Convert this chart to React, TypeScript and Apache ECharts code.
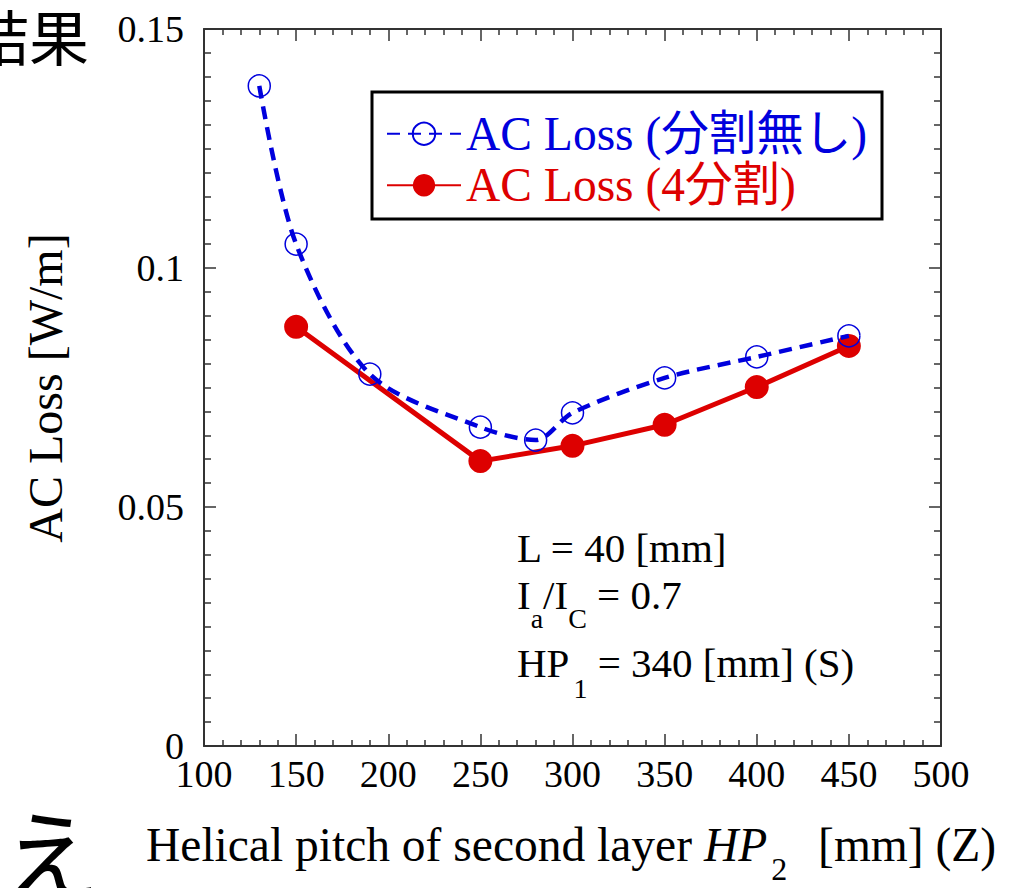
import React, { useEffect, useRef } from "react";
import * as echarts from "echarts";

// ---- data ----
const pitchNoSplit = [130, 150, 190, 250, 280, 300, 350, 400, 450];
const lossNoSplit = [0.1381, 0.105, 0.0778, 0.0667, 0.064, 0.0697, 0.077, 0.0814, 0.0858];
const pitchSplit4 = [150, 250, 300, 350, 400, 450];
const lossSplit4 = [0.0877, 0.0596, 0.0628, 0.0672, 0.0751, 0.0837];
const seriesNames = ["AC Loss (分割無し)", "AC Loss (4分割)"];
const xRange = [100, 500];
const yRange = [0, 0.15];
const annotations = ["L = 40 [mm]", "I", "a", "/I", "C", " = 0.7", "HP", "1", " = 340 [mm] (S)"];

const SERIF = "'Liberation Serif', 'Times New Roman', serif";
const MIXED = "'Liberation Serif', 'Noto Sans CJK JP', serif";
const CJK = "'Noto Sans CJK JP', sans-serif";
const BLUE = "#0000dd";
const RED = "#dd0000";
const AXIS = "#333";

const axisCommon = {
  type: "value" as const,
  axisLine: { show: true, onZero: false, lineStyle: { color: AXIS, width: 2 } },
  axisTick: { show: true, inside: true, length: 12, lineStyle: { color: AXIS, width: 1.5 } },
  splitLine: { show: false },
  minorSplitLine: { show: false },
};

export default function App() {
  const ref = useRef<HTMLDivElement>(null);
  useEffect(() => {
    if (!ref.current) return;
    const chart = echarts.init(ref.current, null, { renderer: "svg" });
    const tickFont = { fontSize: 38, fontFamily: SERIF, color: "#000" };
    const main = { fontSize: 41, fontFamily: SERIF, fill: "#000" };
    const sub = { fontSize: 28, fontFamily: SERIF, fill: "#000" };
    const titleMain = { fontSize: 47.5, fontFamily: SERIF, fill: "#000" };
    chart.setOption({
      animation: false,
      backgroundColor: "#fff",
      grid: { left: 204, right: 84, top: 29, bottom: 142, containLabel: false },
      xAxis: [
        {
          ...axisCommon,
          position: "bottom",
          min: xRange[0],
          max: xRange[1],
          interval: 50,
          minorTick: { show: true, splitNumber: 5, length: 6, lineStyle: { color: AXIS, width: 1.5 } },
          axisLabel: { ...tickFont, margin: 13, lineHeight: 30 },
        },
        {
          ...axisCommon,
          position: "top",
          min: xRange[0],
          max: xRange[1],
          interval: 50,
          minorTick: { show: true, splitNumber: 5, length: 6, lineStyle: { color: AXIS, width: 1.5 } },
          axisLabel: { show: false },
        },
      ],
      yAxis: [
        {
          ...axisCommon,
          position: "left",
          min: yRange[0],
          max: yRange[1],
          interval: 0.05,
          minorTick: { show: true, splitNumber: 10, length: 7, lineStyle: { color: AXIS, width: 1.5 } },
          axisLabel: {
            ...tickFont,
            margin: 20,
            lineHeight: 22,
            padding: [0, 0, 6, 0],
            formatter: (v: number) => (v === 0 ? "0" : String(+v.toFixed(3))),
          },
        },
        {
          ...axisCommon,
          position: "right",
          min: yRange[0],
          max: yRange[1],
          interval: 0.05,
          minorTick: { show: true, splitNumber: 10, length: 7, lineStyle: { color: AXIS, width: 1.5 } },
          axisLabel: { show: false },
        },
      ],
      legend: {
        orient: "vertical",
        left: 386,
        top: 110,
        padding: 0,
        itemWidth: 74,
        itemHeight: 28,
        itemGap: 4,
        selectedMode: false,
        textStyle: { fontSize: 47.5, fontFamily: MIXED, lineHeight: 46 },
        data: [
          { name: seriesNames[0], textStyle: { color: BLUE } },
          { name: seriesNames[1], textStyle: { color: RED } },
        ],
      },
      series: [
        {
          name: seriesNames[1],
          type: "line",
          xAxisIndex: 0,
          yAxisIndex: 0,
          data: pitchSplit4.map((p, i) => [p, lossSplit4[i]]),
          symbol: "circle",
          symbolSize: 24,
          itemStyle: { color: RED },
          lineStyle: { color: RED, width: 5 },
          z: 2,
        },
        {
          name: seriesNames[0],
          type: "line",
          xAxisIndex: 0,
          yAxisIndex: 0,
          smooth: 0.3,
          data: pitchNoSplit.map((p, i) => [p, lossNoSplit[i]]),
          symbol: "circle",
          symbolSize: 22,
          itemStyle: { color: "rgba(0,0,0,0)", borderColor: BLUE, borderWidth: 1.5 },
          lineStyle: { color: BLUE, width: 4.5, type: [13, 8] },
          z: 3,
        },
      ],
      graphic: [
        {
          type: "rect",
          z: 1,
          shape: { x: 372, y: 92, width: 510, height: 127 },
          style: { fill: "#fff", stroke: "#000", lineWidth: 3 },
        },
        {
          type: "text",
          x: 517,
          y: 548,
          style: { text: annotations[0], ...main, verticalAlign: "middle", align: "left" },
        },
        {
          type: "text",
          x: 517,
          y: 595,
          style: {
            text: `{m|${annotations[1]}}{s|${annotations[2]}}{m|${annotations[3]}}{s|${annotations[4]}}{m|${annotations[5]}}`,
            ...main,
            verticalAlign: "middle",
            align: "left",
            rich: { m: main, s: { ...sub, padding: [46, 0, 0, 0] } },
          },
        },
        {
          type: "text",
          x: 517,
          y: 663,
          style: {
            text: `{m|${annotations[6]}}{s|${annotations[7]}}{m|${annotations[8]}}`,
            ...main,
            verticalAlign: "middle",
            align: "left",
            rich: { m: main, s: { ...sub, padding: [50, 0, 0, 4] } },
          },
        },
        {
          type: "text",
          x: 146,
          y: 845,
          style: {
            text: "{m|Helical pitch of second layer }{i|HP}{s|2}{m| [mm] (Z)}",
            ...titleMain,
            verticalAlign: "middle",
            align: "left",
            rich: {
              m: titleMain,
              i: { ...titleMain, fontStyle: "italic" },
              s: { fontSize: 32, fontFamily: SERIF, fill: "#000", padding: [48, 19, 0, 4] },
            },
          },
        },
        {
          type: "text",
          x: 45,
          y: 388,
          rotation: Math.PI / 2,
          style: {
            text: "AC Loss [W/m]",
            fontSize: 48,
            fontFamily: SERIF,
            fill: "#000",
            align: "center",
            verticalAlign: "middle",
          },
        },
        {
          type: "text",
          x: -31,
          y: 34,
          style: { text: "結果", fontSize: 60, fontFamily: CJK, fill: "#000", verticalAlign: "middle", align: "left" },
        },
        {
          type: "text",
          x: 2,
          y: 800,
          style: { text: "え", fontSize: 98, fontFamily: CJK, fill: "#000", verticalAlign: "top", align: "left" },
        },
      ],
    });
    return () => chart.dispose();
  }, []);
  return (
    <div
      ref={ref}
      style={{ position: "absolute", left: 0, top: 0, width: 1025, height: 888, background: "#fff" }}
    />
  );
}
